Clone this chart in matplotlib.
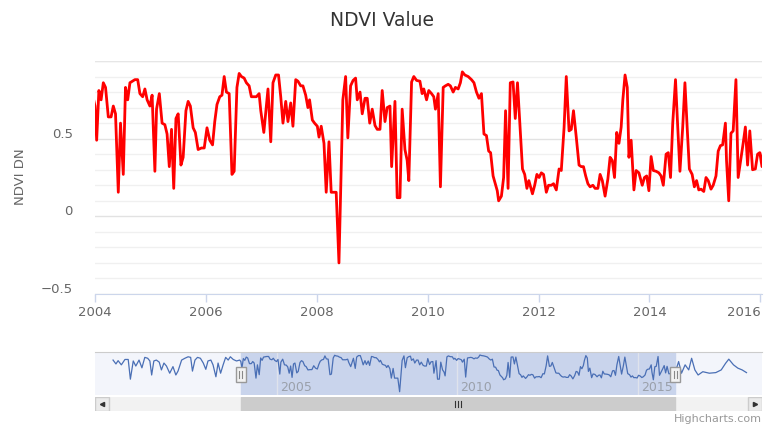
import matplotlib
matplotlib.use("Agg")
import matplotlib.pyplot as plt
import matplotlib.patches as mpatches
import matplotlib.transforms as mtrans
import numpy as np

# NDVI series (decimal year, NDVI DN)
# part before 2004 only shows in the navigator
early_years = [2000.46, 2000.54, 2000.60, 2000.69, 2000.79, 2000.88, 2000.94, 2001.02,
               2001.09, 2001.18, 2001.26, 2001.34, 2001.42, 2001.48, 2001.53, 2001.59,
               2001.66, 2001.74, 2001.80, 2001.87, 2001.94, 2002.03, 2002.12, 2002.20,
               2002.26, 2002.36, 2002.45, 2002.54, 2002.61, 2002.66, 2002.73, 2002.80,
               2002.88, 2002.96, 2003.03, 2003.09, 2003.17, 2003.23, 2003.31, 2003.37,
               2003.44, 2003.51, 2003.58, 2003.65, 2003.71, 2003.79, 2003.88, 2003.97]
early_ndvi = [0.76, 0.63, 0.74, 0.60, 0.78, 0.78, 0.12, 0.73,
              0.56, 0.76, 0.50, 0.85, 0.82, 0.73, 0.26, 0.73,
              0.76, 0.69, 0.43, 0.66, 0.56, 0.32, 0.54, 0.26,
              0.39, 0.76, 0.82, 0.87, 0.85, 0.39, 0.76, 0.85,
              0.82, 0.66, 0.45, 0.73, 0.76, 0.60, 0.20, 0.66,
              0.32, 0.60, 0.85, 0.76, 0.87, 0.78, 0.73, 0.76]

main_years = [2004.00, 2004.03, 2004.07, 2004.11, 2004.15, 2004.19, 2004.24, 2004.29,
              2004.33, 2004.37, 2004.42, 2004.46, 2004.51, 2004.55, 2004.59, 2004.63,
              2004.72, 2004.77, 2004.81, 2004.86, 2004.90, 2004.94, 2004.99, 2005.03,
              2005.08, 2005.11, 2005.16, 2005.21, 2005.26, 2005.30, 2005.34, 2005.38,
              2005.42, 2005.46, 2005.50, 2005.55, 2005.59, 2005.64, 2005.68, 2005.72,
              2005.77, 2005.81, 2005.86, 2005.92, 2005.97, 2006.02, 2006.07, 2006.12,
              2006.16, 2006.20, 2006.25, 2006.29, 2006.33, 2006.37, 2006.42, 2006.47,
              2006.51, 2006.56, 2006.60, 2006.64, 2006.69, 2006.73, 2006.78, 2006.82,
              2006.87, 2006.91, 2006.96, 2006.99, 2007.045, 2007.12, 2007.17, 2007.21,
              2007.26, 2007.31, 2007.35, 2007.39, 2007.44, 2007.48, 2007.53, 2007.57,
              2007.62, 2007.66, 2007.71, 2007.75, 2007.80, 2007.84, 2007.87, 2007.92,
              2007.96, 2008.01, 2008.04, 2008.08, 2008.13, 2008.17, 2008.22, 2008.26,
              2008.35, 2008.40, 2008.47, 2008.52, 2008.56, 2008.61, 2008.655, 2008.70,
              2008.73, 2008.78, 2008.82, 2008.87, 2008.91, 2008.955, 2009.00, 2009.05,
              2009.09, 2009.14, 2009.18, 2009.23, 2009.27, 2009.32, 2009.35, 2009.41,
              2009.45, 2009.50, 2009.54, 2009.59, 2009.63, 2009.66, 2009.71, 2009.75,
              2009.80, 2009.86, 2009.90, 2009.93, 2009.98, 2010.02, 2010.07, 2010.11,
              2010.14, 2010.19, 2010.23, 2010.28, 2010.32, 2010.37, 2010.41, 2010.46,
              2010.50, 2010.55, 2010.59, 2010.625, 2010.67, 2010.73, 2010.79, 2010.835,
              2010.88, 2010.925, 2010.97, 2011.015, 2011.06, 2011.10, 2011.135, 2011.18,
              2011.22, 2011.255, 2011.28, 2011.33, 2011.37, 2011.405, 2011.45, 2011.49,
              2011.54, 2011.58, 2011.62, 2011.66, 2011.71, 2011.75, 2011.79, 2011.825,
              2011.89, 2011.93, 2011.97, 2012.01, 2012.05, 2012.09, 2012.14, 2012.18,
              2012.23, 2012.27, 2012.32, 2012.37, 2012.41, 2012.46, 2012.50, 2012.55,
              2012.59, 2012.63, 2012.68, 2012.73, 2012.77, 2012.81, 2012.85, 2012.89,
              2012.93, 2012.98, 2013.02, 2013.07, 2013.11, 2013.15, 2013.20, 2013.25,
              2013.29, 2013.33, 2013.37, 2013.41, 2013.45, 2013.49, 2013.52, 2013.56,
              2013.60, 2013.63, 2013.67, 2013.72, 2013.76, 2013.81, 2013.87, 2013.91,
              2013.95, 2013.99, 2014.03, 2014.07, 2014.12, 2014.17, 2014.21, 2014.25,
              2014.30, 2014.34, 2014.38, 2014.42, 2014.47, 2014.51, 2014.55, 2014.60,
              2014.64, 2014.68, 2014.72, 2014.77, 2014.81, 2014.85, 2014.89, 2014.93,
              2014.98, 2015.02, 2015.06, 2015.11, 2015.15, 2015.20, 2015.24, 2015.28,
              2015.32, 2015.37, 2015.39, 2015.43, 2015.47, 2015.51, 2015.56, 2015.60,
              2015.65, 2015.69, 2015.73, 2015.77, 2015.81, 2015.86, 2015.91, 2015.95,
              2015.99, 2016.03]
main_ndvi = [0.71, 0.49, 0.81, 0.75, 0.86, 0.83, 0.64, 0.64,
             0.71, 0.66, 0.155, 0.60, 0.27, 0.83, 0.75, 0.86,
             0.88, 0.88, 0.79, 0.77, 0.82, 0.75, 0.71, 0.78,
             0.29, 0.69, 0.79, 0.60, 0.59, 0.53, 0.32, 0.56,
             0.18, 0.63, 0.66, 0.33, 0.38, 0.68, 0.74, 0.71,
             0.57, 0.54, 0.43, 0.44, 0.44, 0.57, 0.49, 0.46,
             0.61, 0.72, 0.77, 0.78, 0.90, 0.80, 0.79, 0.27,
             0.29, 0.83, 0.92, 0.90, 0.89, 0.86, 0.84, 0.77,
             0.77, 0.77, 0.79, 0.68, 0.54, 0.82, 0.48, 0.86,
             0.91, 0.91, 0.77, 0.60, 0.74, 0.61, 0.73, 0.58,
             0.88, 0.87, 0.84, 0.84, 0.78, 0.70, 0.75, 0.62,
             0.60, 0.58, 0.51, 0.58, 0.47, 0.155, 0.48, 0.155,
             0.155, -0.30, 0.75, 0.90, 0.505, 0.84, 0.875, 0.89,
             0.75, 0.80, 0.66, 0.76, 0.76, 0.60, 0.69, 0.585,
             0.56, 0.56, 0.81, 0.61, 0.70, 0.71, 0.32, 0.74,
             0.12, 0.12, 0.69, 0.43, 0.36, 0.23, 0.865, 0.90,
             0.875, 0.87, 0.79, 0.82, 0.75, 0.81, 0.79, 0.77,
             0.69, 0.79, 0.19, 0.83, 0.84, 0.85, 0.84, 0.80,
             0.83, 0.82, 0.86, 0.93, 0.91, 0.90, 0.88, 0.86,
             0.80, 0.76, 0.79, 0.53, 0.52, 0.42, 0.41, 0.26,
             0.21, 0.165, 0.10, 0.13, 0.25, 0.68, 0.18, 0.86,
             0.865, 0.63, 0.86, 0.61, 0.305, 0.27, 0.18, 0.23,
             0.145, 0.20, 0.27, 0.25, 0.28, 0.27, 0.155, 0.20,
             0.20, 0.21, 0.17, 0.305, 0.295, 0.57, 0.90, 0.55,
             0.56, 0.68, 0.51, 0.33, 0.32, 0.32, 0.26, 0.21,
             0.19, 0.20, 0.18, 0.18, 0.27, 0.23, 0.13, 0.24,
             0.38, 0.36, 0.25, 0.54, 0.47, 0.575, 0.75, 0.91,
             0.83, 0.38, 0.49, 0.17, 0.295, 0.28, 0.20, 0.25,
             0.26, 0.165, 0.385, 0.295, 0.29, 0.28, 0.26, 0.20,
             0.40, 0.41, 0.25, 0.60, 0.88, 0.575, 0.29, 0.575,
             0.86, 0.575, 0.305, 0.27, 0.19, 0.23, 0.17, 0.175,
             0.16, 0.25, 0.23, 0.175, 0.20, 0.26, 0.42, 0.455,
             0.46, 0.60, 0.36, 0.10, 0.535, 0.55, 0.88, 0.25,
             0.37, 0.47, 0.575, 0.33, 0.55, 0.30, 0.305, 0.40,
             0.41, 0.32]

# part after the main window, navigator only
late_years = [2016.13, 2016.21, 2016.31, 2016.41, 2016.49, 2016.58, 2016.67, 2016.80,
              2016.98, 2017.16, 2017.31, 2017.43, 2017.52, 2017.65, 2017.77, 2017.89, 2018.01]
late_ndvi = [0.71, 0.32, 0.60, 0.43, 0.82, 0.43, 0.26, 0.37,
             0.32, 0.34, 0.43, 0.65, 0.79, 0.60, 0.49, 0.43, 0.34]

view_start, view_end = 2004.0, 2016.03
nav_start, nav_end = 1999.96, 2018.44
x_ticks = [2004, 2006, 2008, 2010, 2012, 2014, 2016]
nav_ticks = [2005, 2010, 2015]
y_ticks = [-0.5, 0, 0.5]

years = np.array(early_years + main_years + late_years)
ndvi = np.array(early_ndvi + main_ndvi + late_ndvi)

W, H = 764, 424
fig = plt.figure(figsize=(W / 100, H / 100), dpi=100)
plt.rcParams['font.family'] = ['DejaVu Sans']


def box(x0, y0, x1, y1):
    # pixel box (top-left origin) -> figure fraction rect
    return [x0 / W, 1 - y1 / H, (x1 - x0) / W, (y1 - y0) / H]


# ---- main chart ----
ax = fig.add_axes(box(95, 61, 762, 294))
ax.plot(years, ndvi, color="#ff0000", lw=2.0, solid_joinstyle="round", zorder=3)
ax.set_xlim(view_start, view_end)
ax.set_ylim(-0.5, 1.0)
ax.set_yticks(y_ticks)
ax.set_yticklabels(["\u22120.5", "0", "0.5"])
ax.set_yticks(np.arange(-0.5, 1.01, 0.1), minor=True)
ax.set_xticks(x_ticks)
ax.grid(axis="y", which="minor", color="#f0f0f0", lw=1)
ax.grid(axis="y", which="major", color="#e2e2e2", lw=1)
ax.axhline(1.0, color="#e6e6e6", lw=1)
for s in ["top", "right", "left"]:
    ax.spines[s].set_visible(False)
ax.spines["bottom"].set_color("#ccd6eb")
ax.tick_params(axis="y", which="both", length=0, pad=16, labelsize=9.5, labelcolor="#666666")
ax.tick_params(axis="x", length=6, width=1, color="#ccd6eb", pad=3, labelsize=9.5,
               labelcolor="#666666")
off = mtrans.ScaledTranslation(0, 6 / 100, fig.dpi_scale_trans)
for lab in ax.get_yticklabels():
    lab.set_transform(lab.get_transform() + off)
# last x label is kept inside the chart edge
ax.get_xticklabels()[-1].set_ha("right")

fig.text(382 / W, 1 - 20 / H, "NDVI Value", ha="center", va="center", fontsize=13.5,
         color="#333333")
fig.text(20 / W, 1 - 177 / H, "NDVI DN", rotation=90, ha="center", va="center",
         fontsize=9.5, color="#666666")

# ---- navigator ----
nav = fig.add_axes(box(95, 352, 762, 395))
nav.set_facecolor("#f3f5fb")
nav.axvspan(view_start, view_end, color="#c9d4ec", zorder=0)
nav.plot(years, ndvi, color="#4a6fb5", lw=0.9, zorder=2)
nav.set_xlim(nav_start, nav_end)
nav.set_ylim(-0.41, 1.03)
for t in nav_ticks:
    nav.axvline(t, color="#dfe3ec", lw=1, zorder=1)
    nav.text(t + 0.08, 0.18, str(t), transform=nav.get_xaxis_transform(), ha="left",
             va="center", fontsize=9, color="#9aa0aa")
nav.set_xticks([])
nav.set_yticks([])
for s in ["bottom", "right", "left"]:
    nav.spines[s].set_visible(False)
nav.spines["top"].set_color("#cccccc")

yr_per_px = (nav_end - nav_start) / (762 - 95)
hx = nav.get_xaxis_transform()
for v in [view_start, view_end]:
    nav.add_patch(mpatches.Rectangle((v - 5 * yr_per_px, 0.30), 10 * yr_per_px, 0.35,
                                     transform=hx, facecolor="#f2f2f2", edgecolor="#999999",
                                     lw=1, zorder=5, clip_on=False))
    for dx in [-1.5, 1.5]:
        nav.plot([v + dx * yr_per_px] * 2, [0.39, 0.56], transform=hx, color="#888888",
                 lw=0.8, zorder=6, clip_on=False)

# ---- scrollbar ----
sb = fig.add_axes(box(95, 397, 762, 411))
sb.set_facecolor("#f2f2f2")
sb.set_xlim(nav_start, nav_end)
sb.set_ylim(0, 1)
sb.axvspan(view_start, view_end, color="#cccccc", zorder=1)
mid = (view_start + view_end) / 2
for dx in [-3, 0, 3]:
    sb.plot([mid + dx * yr_per_px] * 2, [0.3, 0.7], color="#333333", lw=0.8, zorder=3)
bw = 14 * yr_per_px
sb.add_patch(mpatches.Rectangle((nav_start, 0), bw, 1, facecolor="#ebebeb",
                                edgecolor="#cccccc", lw=1, zorder=2))
sb.add_patch(mpatches.Rectangle((nav_end - bw, 0), bw, 1, facecolor="#ebebeb",
                                edgecolor="#cccccc", lw=1, zorder=2))
sb.plot([nav_start + bw / 2], [0.5], marker="<", ms=3, color="#333333", zorder=3)
sb.plot([nav_end - bw / 2], [0.5], marker=">", ms=3, color="#333333", zorder=3)
sb.set_xticks([])
sb.set_yticks([])
for s in sb.spines.values():
    s.set_visible(False)

fig.text(762 / W, 1 - 419 / H, "Highcharts.com", ha="right", va="center", fontsize=8,
         color="#999999")

fig.savefig("out.png", dpi=100)
